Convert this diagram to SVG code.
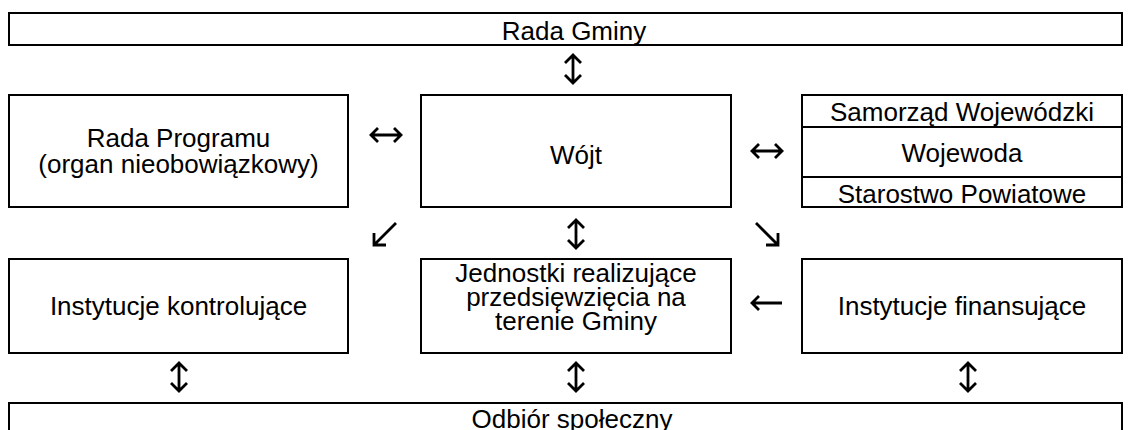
<svg xmlns="http://www.w3.org/2000/svg" width="1132" height="430" viewBox="0 0 1132 430">
  <style>
    .box { fill: #ffffff; stroke: #000000; stroke-width: 2; }
    .div { stroke: #000000; stroke-width: 2; }
    .lbl { font-family: "Liberation Sans", Arial, sans-serif; font-size: 26px; fill: #000000; text-anchor: middle; }
    .arr { fill: none; stroke: #000000; stroke-width: 2.8; stroke-linecap: butt; stroke-linejoin: miter; }
  </style>
  <defs>
    <!-- vertical two-way arrow -->
    <g id="updown">
      <path class="arr" d="M0,-14 V14 M-8,-6 L0,-14 L8,-6 M-8,6 L0,14 L8,6"/>
    </g>
    <!-- horizontal two-way arrow -->
    <g id="leftright">
      <path class="arr" d="M-15,0 H15 M-8,-7 L-15,0 L-8,7 M8,-7 L15,0 L8,7"/>
    </g>
    <!-- single arrow pointing left -->
    <g id="left">
      <path class="arr" d="M-15,0 H15 M-8,-7 L-15,0 L-8,7"/>
    </g>
  </defs>

  <rect width="1132" height="430" fill="#ffffff"/>

  <g id="rada-gminy">
    <rect class="box" x="9" y="13" width="1113" height="32"/>
    <text class="lbl" x="574" y="40">Rada Gminy</text>
  </g>

  <g id="rada-programu">
    <rect class="box" x="9" y="95" width="339" height="112"/>
    <text class="lbl" x="178.5" y="147">Rada Programu</text>
    <text class="lbl" x="178.5" y="173">(organ nieobowiązkowy)</text>
  </g>

  <g id="wojt">
    <rect class="box" x="421" y="95" width="310" height="112"/>
    <text class="lbl" x="576" y="164">Wójt</text>
  </g>

  <g id="administracja">
    <rect class="box" x="802" y="95" width="320" height="112"/>
    <line class="div" x1="802" y1="127" x2="1122" y2="127"/>
    <line class="div" x1="802" y1="177" x2="1122" y2="177"/>
    <text class="lbl" x="962" y="121">Samorząd Wojewódzki</text>
    <text class="lbl" x="962" y="162">Wojewoda</text>
    <text class="lbl" x="962" y="203">Starostwo Powiatowe</text>
  </g>

  <g id="instytucje-kontrolujace">
    <rect class="box" x="9" y="259" width="339" height="94"/>
    <text class="lbl" x="178.5" y="315">Instytucje kontrolujące</text>
  </g>

  <g id="jednostki">
    <rect class="box" x="421" y="259" width="310" height="94"/>
    <text class="lbl" x="576" y="282">Jednostki realizujące</text>
    <text class="lbl" x="576" y="306">przedsięwzięcia na</text>
    <text class="lbl" x="576" y="330">terenie Gminy</text>
  </g>

  <g id="instytucje-finansujace">
    <rect class="box" x="802" y="259" width="320" height="94"/>
    <text class="lbl" x="962" y="315">Instytucje finansujące</text>
  </g>

  <g id="odbior-spoleczny">
    <rect class="box" x="9" y="403" width="1113" height="40"/>
    <text class="lbl" x="572" y="428">Odbiór społeczny</text>
  </g>

  <g id="connectors">
    <use href="#updown" x="573" y="69"/>
    <use href="#leftright" x="386" y="135"/>
    <use href="#leftright" x="767" y="151"/>
    <path class="arr" d="M396,223 L374,245 M374,233 L374,245 L386,245"/>
    <use href="#updown" x="576" y="234"/>
    <path class="arr" d="M756,223 L778,245 M778,233 L778,245 L766,245"/>
    <use href="#left" x="767" y="303"/>
    <use href="#updown" x="179" y="377"/>
    <use href="#updown" x="576" y="377"/>
    <use href="#updown" x="968" y="377"/>
  </g>
</svg>
